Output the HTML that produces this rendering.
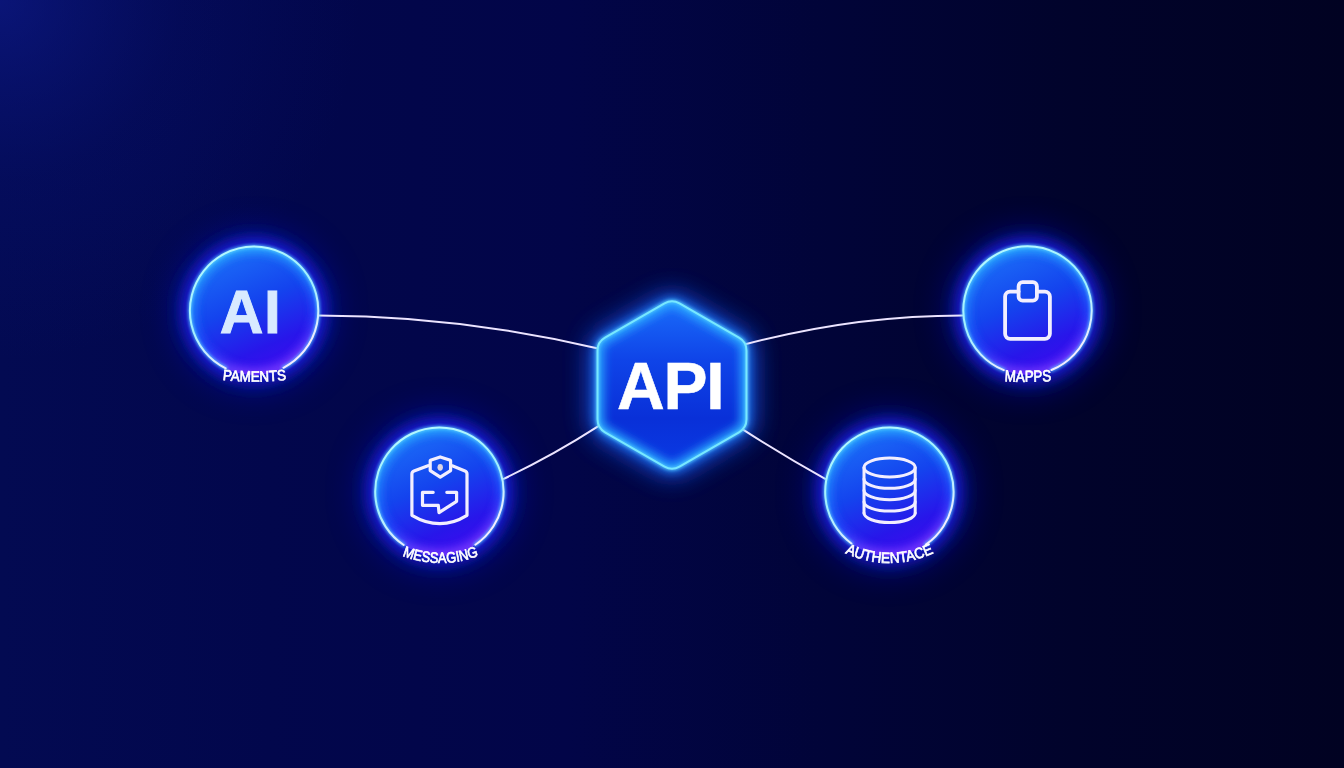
<!DOCTYPE html>
<html><head><meta charset="utf-8">
<style>
html,body{margin:0;padding:0;width:1344px;height:768px;overflow:hidden;background:#030838;}
svg{display:block;}
text{font-family:"Liberation Sans",sans-serif;}
</style></head>
<body>
<svg width="1344" height="768" viewBox="0 0 1344 768">
<defs>
  <linearGradient id="bg" x1="0" y1="0" x2="1344" y2="0" gradientUnits="userSpaceOnUse">
    <stop offset="0" stop-color="#030a52"/>
    <stop offset="0.2" stop-color="#02074c"/>
    <stop offset="0.42" stop-color="#020548"/>
    <stop offset="0.62" stop-color="#010438"/>
    <stop offset="0.8" stop-color="#01032b"/>
    <stop offset="1" stop-color="#010222"/>
  </linearGradient>
  <radialGradient id="bgtl" cx="0" cy="0" r="360" gradientUnits="userSpaceOnUse">
    <stop offset="0" stop-color="#0f1c90" stop-opacity="0.6"/>
    <stop offset="0.5" stop-color="#0a1680" stop-opacity="0.2"/>
    <stop offset="1" stop-color="#0a1680" stop-opacity="0"/>
  </radialGradient>
  <linearGradient id="cfill" x1="0.2" y1="0.05" x2="0.6" y2="1">
    <stop offset="0" stop-color="#1c70f8"/>
    <stop offset="0.45" stop-color="#1444ee"/>
    <stop offset="0.8" stop-color="#2816ea"/>
    <stop offset="1" stop-color="#3c0cf0"/>
  </linearGradient>
  <linearGradient id="crim" x1="0" y1="0" x2="0.3" y2="1">
    <stop offset="0" stop-color="#30c0ff"/>
    <stop offset="0.5" stop-color="#2080ff"/>
    <stop offset="0.75" stop-color="#2050ff"/>
    <stop offset="1" stop-color="#7a40ff"/>
  </linearGradient>
  <linearGradient id="cstroke" x1="0" y1="0" x2="0.4" y2="1">
    <stop offset="0" stop-color="#b8faff"/>
    <stop offset="0.6" stop-color="#a0f0ff"/>
    <stop offset="1" stop-color="#f4ecff"/>
  </linearGradient>
  <linearGradient id="hfill" x1="0" y1="0" x2="0" y2="1">
    <stop offset="0" stop-color="#1a6cfa"/>
    <stop offset="0.35" stop-color="#0f44e8"/>
    <stop offset="0.7" stop-color="#0930d8"/>
    <stop offset="1" stop-color="#0a3ae4"/>
  </linearGradient>
  <filter id="glowC" x="-60%" y="-60%" width="220%" height="220%"><feGaussianBlur stdDeviation="11"/></filter>
  <filter id="glowW" x="-80%" y="-80%" width="260%" height="260%"><feGaussianBlur stdDeviation="18"/></filter>
  <filter id="glowN" x="-60%" y="-60%" width="220%" height="220%"><feGaussianBlur stdDeviation="8"/></filter>
  <filter id="glowH" x="-60%" y="-60%" width="220%" height="220%"><feGaussianBlur stdDeviation="13"/></filter>
  <filter id="blur5" x="-50%" y="-50%" width="200%" height="200%"><feGaussianBlur stdDeviation="5"/></filter>
  <filter id="blur2" x="-50%" y="-50%" width="200%" height="200%"><feGaussianBlur stdDeviation="1.5"/></filter>
  <filter id="soft" x="-20%" y="-20%" width="140%" height="140%"><feGaussianBlur stdDeviation="0.35"/></filter>
  <clipPath id="clipC"><circle cx="0" cy="0" r="64.2"/></clipPath>
  <clipPath id="clipH"><path d="M-7.50 -81.67 A15.0 15.0 0 0 1 7.50 -81.67 L66.98 -47.33 A15.0 15.0 0 0 1 74.48 -34.34 L74.48 34.34 A15.0 15.0 0 0 1 66.98 47.33 L7.50 81.67 A15.0 15.0 0 0 1 -7.50 81.67 L-66.98 47.33 A15.0 15.0 0 0 1 -74.48 34.34 L-74.48 -34.34 A15.0 15.0 0 0 1 -66.98 -47.33 Z"/></clipPath>
  <path id="arcMsg" d="M370.60 536.26 A105.0 105.0 0 0 0 510.60 536.26"/>
  <path id="arcAuth" d="M819.40 535.56 A103.0 103.0 0 0 0 959.40 535.56"/>
  <path id="arcPay" d="M184.50 373.42 A300.0 300.0 0 0 0 324.50 373.42"/>
  <path id="arcMap" d="M958.00 375.63 A400.0 400.0 0 0 0 1098.00 375.63"/>
</defs>
<rect width="1344" height="768" fill="url(#bg)"/>
<rect width="1344" height="768" fill="url(#bgtl)"/>

<circle cx="254.1" cy="310.7" r="76.2" fill="#0c18c8" opacity="0.6" filter="url(#glowW)"/>
<circle cx="254.1" cy="310.7" r="71.2" fill="#1a24f4" opacity="0.85" filter="url(#glowN)"/>
<circle cx="1027.5" cy="310.5" r="76.2" fill="#0c18c8" opacity="0.6" filter="url(#glowW)"/>
<circle cx="1027.5" cy="310.5" r="71.2" fill="#1a24f4" opacity="0.85" filter="url(#glowN)"/>
<circle cx="439.4" cy="491.6" r="76.2" fill="#0c18c8" opacity="0.6" filter="url(#glowW)"/>
<circle cx="439.4" cy="491.6" r="71.2" fill="#1a24f4" opacity="0.85" filter="url(#glowN)"/>
<circle cx="889.4" cy="491.8" r="76.2" fill="#0c18c8" opacity="0.6" filter="url(#glowW)"/>
<circle cx="889.4" cy="491.8" r="71.2" fill="#1a24f4" opacity="0.85" filter="url(#glowN)"/>

<g transform="translate(672 385)">
  <path d="M-7.50 -81.67 A15.0 15.0 0 0 1 7.50 -81.67 L66.98 -47.33 A15.0 15.0 0 0 1 74.48 -34.34 L74.48 34.34 A15.0 15.0 0 0 1 66.98 47.33 L7.50 81.67 A15.0 15.0 0 0 1 -7.50 81.67 L-66.98 47.33 A15.0 15.0 0 0 1 -74.48 34.34 L-74.48 -34.34 A15.0 15.0 0 0 1 -66.98 -47.33 Z" fill="#1250ff" stroke="#1a60ff" stroke-width="14" stroke-linejoin="round" opacity="0.9" filter="url(#glowH)"/>
  <path d="M-7.50 -81.67 A15.0 15.0 0 0 1 7.50 -81.67 L66.98 -47.33 A15.0 15.0 0 0 1 74.48 -34.34 L74.48 34.34 A15.0 15.0 0 0 1 66.98 47.33 L7.50 81.67 A15.0 15.0 0 0 1 -7.50 81.67 L-66.98 47.33 A15.0 15.0 0 0 1 -74.48 34.34 L-74.48 -34.34 A15.0 15.0 0 0 1 -66.98 -47.33 Z" fill="none" stroke="#2a90ff" stroke-width="6" stroke-linejoin="round" opacity="0.9" filter="url(#blur5)"/>
</g>

<g fill="none" stroke="#ece4ff" stroke-width="2" stroke-linecap="round">
  <path d="M318 315.6 Q457.5 315.6 597 348.3"/>
  <path d="M503.7 478.8 Q552 456 598 426.4"/>
  <path d="M743.4 344.8 Q852.9 315.4 962.5 315.4"/>
  <path d="M742.3 429.1 Q784 456 825.2 478.8"/>
</g>

<g transform="translate(254.1 310.7)">
  <circle r="64.2" fill="url(#cfill)"/>
  <g clip-path="url(#clipC)"><circle r="64.2" fill="none" stroke="url(#crim)" stroke-width="12" filter="url(#blur5)" opacity="0.9"/></g>
</g>
<path d="M225.70 368.28 A64.20 64.20 0 1 1 283.50 367.77" fill="none" stroke="#60d8ff" stroke-width="4" stroke-linecap="round" opacity="0.7" filter="url(#blur2)"/>
<path d="M225.70 368.28 A64.20 64.20 0 1 1 283.50 367.77" fill="none" stroke="url(#cstroke)" stroke-width="2" stroke-linecap="round"/>
<g transform="translate(1027.5 310.5)">
  <circle r="64.2" fill="url(#cfill)"/>
  <g clip-path="url(#clipC)"><circle r="64.2" fill="none" stroke="url(#crim)" stroke-width="12" filter="url(#blur5)" opacity="0.9"/></g>
</g>
<path d="M1003.80 370.17 A64.20 64.20 0 1 1 1051.50 370.05" fill="none" stroke="#60d8ff" stroke-width="4" stroke-linecap="round" opacity="0.7" filter="url(#blur2)"/>
<path d="M1003.80 370.17 A64.20 64.20 0 1 1 1051.50 370.05" fill="none" stroke="url(#cstroke)" stroke-width="2" stroke-linecap="round"/>
<g transform="translate(439.4 491.6)">
  <circle r="64.2" fill="url(#cfill)"/>
  <g clip-path="url(#clipC)"><circle r="64.2" fill="none" stroke="url(#crim)" stroke-width="12" filter="url(#blur5)" opacity="0.9"/></g>
</g>
<path d="M403.70 544.96 A64.20 64.20 0 1 1 475.40 544.76" fill="none" stroke="#60d8ff" stroke-width="4" stroke-linecap="round" opacity="0.7" filter="url(#blur2)"/>
<path d="M403.70 544.96 A64.20 64.20 0 1 1 475.40 544.76" fill="none" stroke="url(#cstroke)" stroke-width="2" stroke-linecap="round"/>
<g transform="translate(889.4 491.8)">
  <circle r="64.2" fill="url(#cfill)"/>
  <g clip-path="url(#clipC)"><circle r="64.2" fill="none" stroke="url(#crim)" stroke-width="12" filter="url(#blur5)" opacity="0.9"/></g>
</g>
<path d="M851.40 543.55 A64.20 64.20 0 1 1 925.80 544.68" fill="none" stroke="#60d8ff" stroke-width="4" stroke-linecap="round" opacity="0.7" filter="url(#blur2)"/>
<path d="M851.40 543.55 A64.20 64.20 0 1 1 925.80 544.68" fill="none" stroke="url(#cstroke)" stroke-width="2" stroke-linecap="round"/>


<g transform="translate(672 385)">
  <path d="M-7.50 -81.67 A15.0 15.0 0 0 1 7.50 -81.67 L66.98 -47.33 A15.0 15.0 0 0 1 74.48 -34.34 L74.48 34.34 A15.0 15.0 0 0 1 66.98 47.33 L7.50 81.67 A15.0 15.0 0 0 1 -7.50 81.67 L-66.98 47.33 A15.0 15.0 0 0 1 -74.48 34.34 L-74.48 -34.34 A15.0 15.0 0 0 1 -66.98 -47.33 Z" fill="url(#hfill)"/>
  <g clip-path="url(#clipH)"><path d="M-7.50 -81.67 A15.0 15.0 0 0 1 7.50 -81.67 L66.98 -47.33 A15.0 15.0 0 0 1 74.48 -34.34 L74.48 34.34 A15.0 15.0 0 0 1 66.98 47.33 L7.50 81.67 A15.0 15.0 0 0 1 -7.50 81.67 L-66.98 47.33 A15.0 15.0 0 0 1 -74.48 34.34 L-74.48 -34.34 A15.0 15.0 0 0 1 -66.98 -47.33 Z" fill="none" stroke="#2aa8ff" stroke-width="12" filter="url(#blur5)"/></g>
  <path d="M-7.50 -81.67 A15.0 15.0 0 0 1 7.50 -81.67 L66.98 -47.33 A15.0 15.0 0 0 1 74.48 -34.34 L74.48 34.34 A15.0 15.0 0 0 1 66.98 47.33 L7.50 81.67 A15.0 15.0 0 0 1 -7.50 81.67 L-66.98 47.33 A15.0 15.0 0 0 1 -74.48 34.34 L-74.48 -34.34 A15.0 15.0 0 0 1 -66.98 -47.33 Z" fill="none" stroke="#50c8ff" stroke-width="4" opacity="0.8" filter="url(#blur2)"/>
  <path d="M-7.50 -81.67 A15.0 15.0 0 0 1 7.50 -81.67 L66.98 -47.33 A15.0 15.0 0 0 1 74.48 -34.34 L74.48 34.34 A15.0 15.0 0 0 1 66.98 47.33 L7.50 81.67 A15.0 15.0 0 0 1 -7.50 81.67 L-66.98 47.33 A15.0 15.0 0 0 1 -74.48 34.34 L-74.48 -34.34 A15.0 15.0 0 0 1 -66.98 -47.33 Z" fill="none" stroke="#78e8ff" stroke-width="2"/>
</g>
<text x="670.3" y="409.3" text-anchor="middle" letter-spacing="-1.2" font-size="66" font-weight="bold" fill="#ffffff" stroke="#ffffff" stroke-width="0.6">API</text>

<text x="250.6" y="332.8" text-anchor="middle" font-size="60.5" font-weight="bold" fill="#d8eaff" stroke="#d8eaff" stroke-width="0.9" letter-spacing="0.6">AI</text>

<!-- icons -->
<g fill="none" stroke="#f2eeff" stroke-linecap="round" stroke-linejoin="round" filter="url(#soft)">
  <!-- maps -->
  <path stroke-width="3.8" d="M1018.6 291.6 H1010 A5 5 0 0 0 1005.1 296.6 V333.8 A5 5 0 0 0 1010.1 338.8 H1044.9 A5 5 0 0 0 1049.9 333.8 V296.6 A5 5 0 0 0 1044.9 291.6 H1036.9"/>
  <rect stroke-width="3.8" x="1018.6" y="282.2" width="18.3" height="18.5" rx="4"/>
  <!-- database -->
  <g stroke-width="3">
    <ellipse cx="889.6" cy="467.5" rx="25.6" ry="9.4"/>
    <path d="M864 467.5 V513.1 M915.2 467.5 V513.1"/>
    <path d="M864 478.9 A25.6 9.4 0 0 0 915.2 478.9 M864 490.3 A25.6 9.4 0 0 0 915.2 490.3 M864 501.7 A25.6 9.4 0 0 0 915.2 501.7 M864 513.1 A25.6 9.4 0 0 0 915.2 513.1"/>
  </g>
  <!-- messaging -->
  <g stroke-width="3.2">
    <path d="M428 465.7 L414 471 Q411.9 471.8 411.9 474 V515.3 Q440 532 467 515.3 V474 Q467 471.8 465 471 L452.2 465.8"/>
    <path d="M440.2 456.9 L450.4 460.3 Q450.6 460.5 450.6 461 V470.6 L440.3 477.1 L430.2 470.6 V461 Q430.2 460.5 430.5 460.3 Z"/>
    <path d="M433.2 492.3 H422.5 V505.3 H438.3 L439 512.6 L456.6 501.3 V492.3 H446.8"/>
  </g>
  <ellipse cx="440.2" cy="467.3" rx="2.7" ry="3.4" fill="#dcd4e4" stroke="none"/>
</g>

<!-- labels -->
<g font-size="15" font-weight="normal" fill="#ffffff" stroke="#ffffff" stroke-width="0.7" filter="url(#soft)">
  <text text-anchor="middle"><textPath href="#arcPay" startOffset="50%" textLength="64" lengthAdjust="spacingAndGlyphs">PAMENTS</textPath></text>
  <text text-anchor="middle" font-size="16"><textPath href="#arcMap" startOffset="50%" textLength="47" lengthAdjust="spacingAndGlyphs">MAPPS</textPath></text>
  <text text-anchor="middle"><textPath href="#arcMsg" startOffset="50%" textLength="78" lengthAdjust="spacingAndGlyphs">MESSAGING</textPath></text>
  <text text-anchor="middle"><textPath href="#arcAuth" startOffset="50%" textLength="91.5" lengthAdjust="spacingAndGlyphs">AUTHENTACE</textPath></text>
</g>
</svg>
</body></html>
